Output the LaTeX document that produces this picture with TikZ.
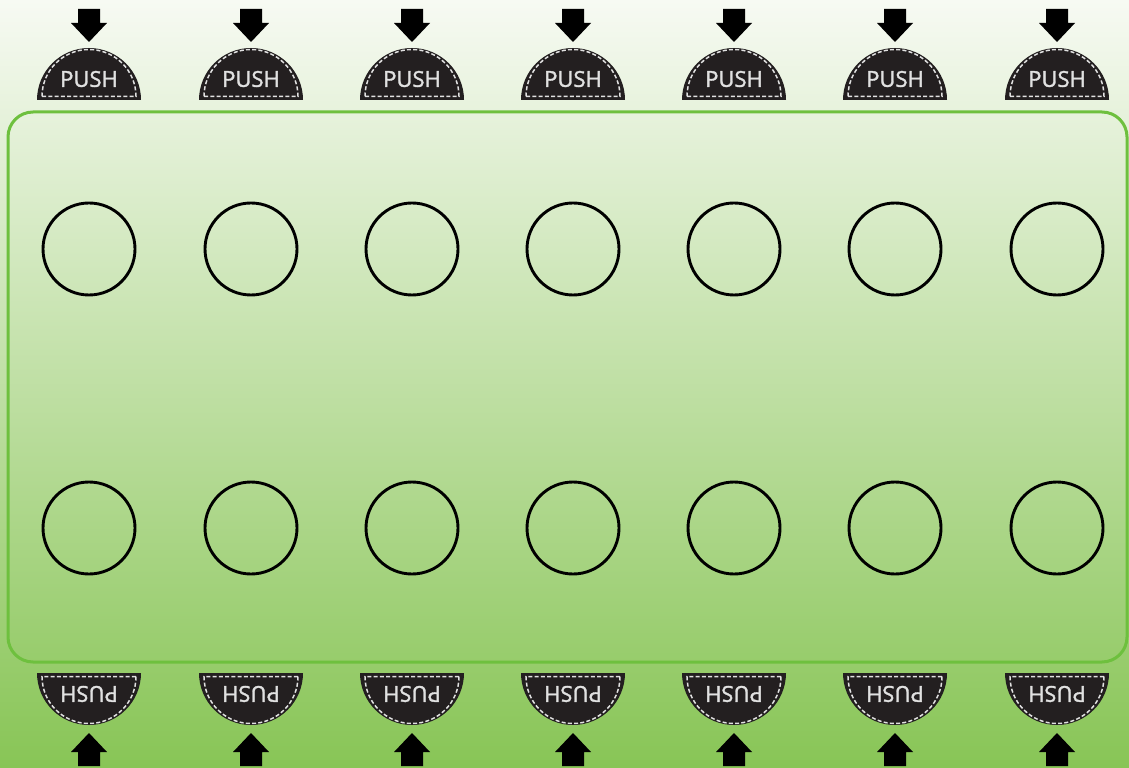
\documentclass[tikz,border=0pt]{standalone}
\usepackage{fontspec}
\usepackage{tikz}
\newfontfamily\pushfont{Open Sans}[FakeBold=1.6]
\definecolor{tabdark}{RGB}{35,31,32}
\definecolor{stitchgray}{RGB}{225,225,225}
\definecolor{framegreen}{RGB}{110,192,62}
\definecolor{bgtop}{RGB}{247,250,243}
\definecolor{bgmid}{RGB}{214,234,196}
\definecolor{bgbot}{RGB}{136,197,86}

\tikzset{
  pushtab/.pic={
    \fill[tabdark] (-52,0) arc[start angle=180,end angle=0,radius=52] -- cycle;
    \draw[stitch] (-47,3.5) arc[start angle=180,end angle=0,radius=47] -- cycle;
    \node[pushtext,transform shape] (-text) at (0,21) {PUSH};
  },
  pusharrow/.pic={
    \fill[black] (-11,0) -- (-11,-14) -- (-18,-14) -- (0,-33) -- (18,-14) -- (11,-14) -- (11,0) -- cycle;
  }
}

\begin{document}
\begin{tikzpicture}[x=.2mm,y=.2mm,
  ring/.style={circle,draw,line width=.58mm,minimum size=18.4mm,inner sep=0pt},
  frame/.style={draw=framegreen,line width=.6mm,rounded corners=5mm},
  stitch/.style={draw=stitchgray,line width=.3mm,dash pattern=on .8mm off .45mm},
  pushtext/.style={text=stitchgray,font=\pushfont\fontsize{12.5}{13}\selectfont,inner sep=0pt}]
  \shade[top color=bgtop,middle color=bgmid,bottom color=bgbot] (0,0) rectangle (1129,767);
  \draw[frame] (8,105) rectangle (1127,655);
  \foreach \i/\x in {1/89,2/251,3/412,4/573,5/734,6/895,7/1057} {
    \node[ring] (up\i) at (\x,518) {};
    \node[ring] (dn\i) at (\x,239) {};
    % tabs, the lower row turned round
    \pic (ttab\i) at (\x,667) {pushtab};
    \pic[rotate=180] (btab\i) at (\x,94) {pushtab};
    \coordinate (tin\i) at (\x,758);
    \coordinate (bin\i) at (\x,1);
    \pic at (tin\i) {pusharrow};
    \pic[rotate=180] at (bin\i) {pusharrow};
  }
\end{tikzpicture}
\end{document}
